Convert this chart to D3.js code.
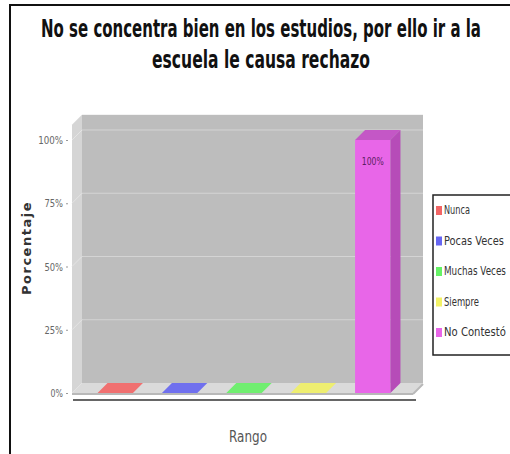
<!DOCTYPE html>
<html>
<head>
<meta charset="utf-8">
<script src="https://cdn.jsdelivr.net/npm/d3@7"></script>
<style>
  body { margin: 0; background: #fff; }
  text { font-family: "DejaVu Sans", sans-serif; }
</style>
</head>
<body>
<svg width="510" height="454"></svg>
<script>
// chart data
const categories = ["Nunca", "Pocas Veces", "Muchas Veces", "Siempre", "No Contestó"];
const values = [0, 0, 0, 0, 100];
const barLabels = ["", "", "", "", "100%"];
const tickValues = [0, 25, 50, 75, 100];
const tickLabels = ["0%", "25%", "50%", "75%", "100%"];
const titleLines = ["No se concentra bien en los estudios, por ello ir a la", "escuela le causa rechazo"];

const colors = {
  front: ["#f26666", "#6666f2", "#66f266", "#f2f266", "#e866e8"],
  top:   ["#f07070", "#7070ee", "#70ee70", "#eeee70", "#c457c6"],
  side:  ["#c85050", "#5050c8", "#50c850", "#c8c850", "#b64cb8"]
};
// widths of the condensed legend labels
const legendWidths = [26, 60, 62, 35, 62];

const svg = d3.select("svg");

// squeeze a text horizontally to a given width (condensed look)
function squeeze(sel, x, y, width) {
  sel.each(function(d, i) {
    const t = d3.select(this);
    const w = typeof width === "function" ? width(d, i) : width;
    const xx = typeof x === "function" ? x(d, i) : x;
    const yy = typeof y === "function" ? y(d, i) : y;
    const natural = this.getComputedTextLength();
    t.attr("x", 0).attr("y", 0)
      .attr("transform", `translate(${xx},${yy}) scale(${w / natural},1)`);
  });
}

// outer frame
svg.append("rect")
  .attr("x", 10).attr("y", 5)
  .attr("width", 520).attr("height", 470)
  .attr("fill", "none").attr("stroke", "#111").attr("stroke-width", 2);

// title
svg.selectAll(".title")
  .data(titleLines)
  .enter()
  .append("text")
  .attr("class", "title")
  .attr("text-anchor", "middle")
  .attr("font-size", 24)
  .attr("font-weight", "bold")
  .attr("fill", "#111")
  .text(d => d)
  .call(squeeze, 261, (d, i) => 37 + i * 31, (d, i) => i === 0 ? 440 : 218);

// 3d geometry
const left = 72, right = 413, base = 393;
const dx = 10, dy = 10;

const yScale = d3.scaleLinear()
  .domain([0, 100])
  .range([base, 140]);

const xScale = d3.scaleBand()
  .domain(categories)
  .range([left + 3, right])
  .paddingInner(0.45)
  .paddingOuter(0.35);

const topFront = yScale(106);
const pts = a => a.map(p => p.join(",")).join(" ");

// left wall
svg.append("polygon")
  .attr("points", pts([[left, base], [left, topFront], [left + dx, topFront - dy], [left + dx, base - dy]]))
  .attr("fill", "#d5d5d5");

// back wall
svg.append("rect")
  .attr("x", left + dx).attr("y", topFront - dy)
  .attr("width", right - left).attr("height", base - topFront)
  .attr("fill", "#bdbdbd");

// gridlines on the back wall
svg.selectAll(".grid")
  .data(tickValues.filter(d => d > 0))
  .enter()
  .append("line")
  .attr("class", "grid")
  .attr("x1", left + dx).attr("x2", right + dx)
  .attr("y1", d => yScale(d) - dy).attr("y2", d => yScale(d) - dy)
  .attr("stroke", "#d4d4d4").attr("stroke-width", 1);

// gridlines on the left wall
svg.selectAll(".lgrid")
  .data(tickValues.filter(d => d > 0))
  .enter()
  .append("line")
  .attr("class", "lgrid")
  .attr("x1", left).attr("x2", left + dx)
  .attr("y1", d => yScale(d)).attr("y2", d => yScale(d) - dy)
  .attr("stroke", "#e4e4e4").attr("stroke-width", 1);

// floor
svg.append("polygon")
  .attr("points", pts([[left, base], [right, base], [right + dx, base - dy], [left + dx, base - dy]]))
  .attr("fill", "#dadada");
svg.append("line")
  .attr("x1", left).attr("x2", right)
  .attr("y1", base + 1).attr("y2", base + 1)
  .attr("stroke", "#b8b8b8").attr("stroke-width", 2);
svg.append("line")
  .attr("x1", right).attr("x2", right + dx)
  .attr("y1", base + 1).attr("y2", base - dy + 1)
  .attr("stroke", "#b8b8b8").attr("stroke-width", 2);

// bars
const bars = svg.selectAll(".bar")
  .data(categories)
  .enter()
  .append("g")
  .attr("class", "bar");

bars.append("rect")
  .attr("x", d => xScale(d))
  .attr("y", (d, i) => yScale(values[i]))
  .attr("width", xScale.bandwidth())
  .attr("height", (d, i) => base - yScale(values[i]))
  .attr("fill", (d, i) => colors.front[i]);

bars.append("polygon")
  .attr("points", (d, i) => {
    const x = xScale(d), w = xScale.bandwidth(), y = yScale(values[i]);
    return pts([[x, y], [x + w, y], [x + w + dx, y - dy], [x + dx, y - dy]]);
  })
  .attr("fill", (d, i) => colors.top[i]);

bars.append("polygon")
  .attr("points", (d, i) => {
    const x = xScale(d) + xScale.bandwidth(), y = yScale(values[i]);
    return pts([[x, y], [x + dx, y - dy], [x + dx, base - dy], [x, base]]);
  })
  .attr("fill", (d, i) => colors.side[i])
  .attr("display", (d, i) => values[i] > 0 ? null : "none");

bars.filter((d, i) => barLabels[i] !== "")
  .append("text")
  .attr("text-anchor", "middle")
  .attr("font-size", 11)
  .attr("fill", "#5a1f60")
  .text(d => barLabels[categories.indexOf(d)])
  .call(squeeze,
    d => xScale(d) + xScale.bandwidth() / 2,
    d => yScale(values[categories.indexOf(d)]) + 25,
    22);

// x axis line
svg.append("line")
  .attr("x1", left + 1).attr("x2", right + 3)
  .attr("y1", 400).attr("y2", 400)
  .attr("stroke", "#666").attr("stroke-width", 2);

// y axis ticks
const yAxis = svg.append("g")
  .attr("transform", "translate(68,0)")
  .call(d3.axisLeft(yScale)
    .tickValues(tickValues)
    .tickFormat((d, i) => tickLabels[i])
    .tickSize(2)
    .tickPadding(3));
yAxis.select(".domain").remove();
yAxis.selectAll(".tick line").attr("stroke", "#999");
yAxis.selectAll(".tick text")
  .attr("font-size", 11)
  .attr("font-family", null)
  .attr("fill", "#666")
  .attr("textLength", (d, i) => tickLabels[i].length * 6.2)
  .attr("lengthAdjust", "spacingAndGlyphs");

// axis titles
svg.append("text")
  .attr("transform", "translate(31,248) rotate(-90)")
  .attr("text-anchor", "middle")
  .attr("font-size", 13)
  .attr("font-weight", "bold")
  .attr("letter-spacing", 1.5)
  .attr("fill", "#333")
  .text("Porcentaje");

svg.append("text")
  .attr("text-anchor", "middle")
  .attr("font-size", 16)
  .attr("fill", "#555")
  .text("Rango")
  .call(squeeze, 248, 442, 38);

// legend
const legend = svg.append("g");
legend.append("rect")
  .attr("x", 433).attr("y", 195)
  .attr("width", 100).attr("height", 160)
  .attr("fill", "#fff").attr("stroke", "#222").attr("stroke-width", 1.5);

const items = legend.selectAll(".item")
  .data(categories)
  .enter()
  .append("g")
  .attr("class", "item")
  .attr("transform", (d, i) => `translate(436,${214 + i * 30.5})`);

items.append("rect")
  .attr("x", 0).attr("y", -8)
  .attr("width", 6).attr("height", 9)
  .attr("fill", (d, i) => colors.front[i]);

items.append("text")
  .attr("font-size", 12)
  .attr("fill", "#333")
  .text(d => d)
  .call(squeeze, 8, 0, (d, i) => legendWidths[i]);
</script>
</body>
</html>
